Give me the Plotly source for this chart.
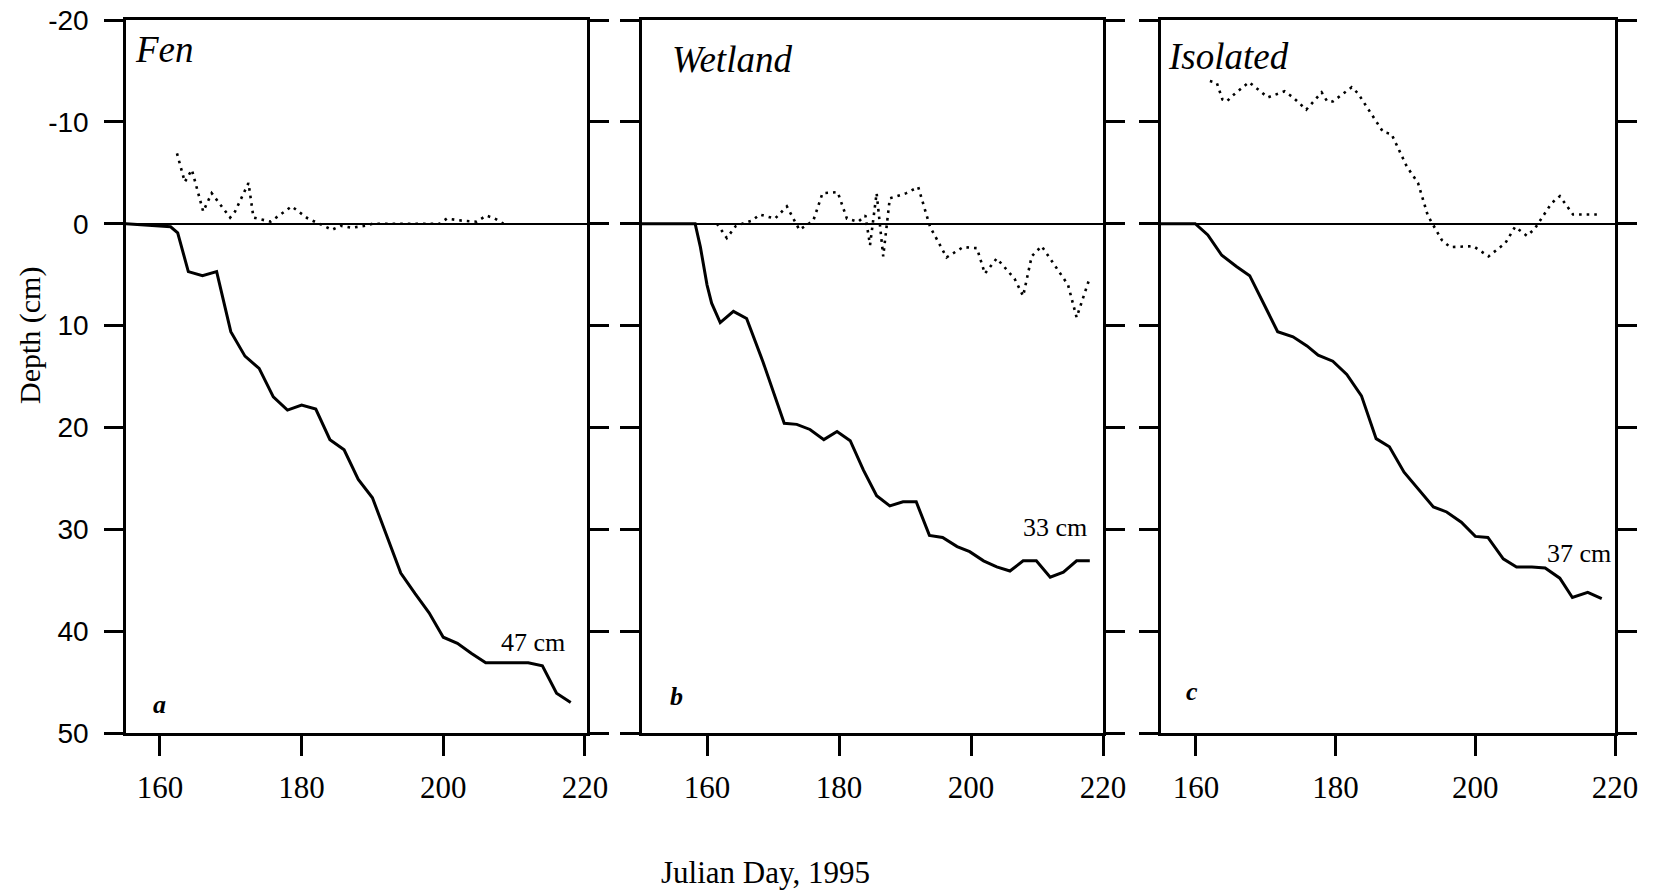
import plotly.graph_objects as go

W, H = 1654, 891

# ---------------- data ----------------
panel_names = ["Fen", "Wetland", "Isolated"]
panel_letters = ["a", "b", "c"]
final_depth_labels = ["47 cm", "33 cm", "37 cm"]

# frost/thaw depth (solid), cm below surface
fen_days = [155, 161.5, 162.5, 164, 166, 168, 170, 172, 174, 176, 178, 180, 182, 184, 186, 188,
            190, 192, 194, 196, 198, 200, 202, 204, 206, 208, 210, 212, 214, 216, 218]
fen_depth = [0, 0.3, 0.9, 4.7, 5.1, 4.7, 10.6, 13.0, 14.2, 17.0, 18.3, 17.8, 18.2, 21.2, 22.2, 25.1,
             26.9, 30.7, 34.3, 36.3, 38.2, 40.6, 41.2, 42.2, 43.1, 43.1, 43.1, 43.1, 43.4, 46.1, 47.0]

wet_days = [150, 158.2, 159, 160, 160.7, 162, 164, 166, 168.5, 170, 171.7, 173.6, 175.6, 177.7,
            179.7, 181.7, 183.7, 185.7, 187.7, 189.7, 191.7, 193.7, 195.7, 197.9, 199.8, 201.9,
            203.9, 205.9, 207.9, 209.9, 212, 214, 216, 218]
wet_depth = [0, 0, 2.3, 6.0, 7.8, 9.7, 8.6, 9.3, 13.6, 16.4, 19.6, 19.7, 20.2, 21.2,
             20.4, 21.3, 24.2, 26.7, 27.7, 27.3, 27.3, 30.6, 30.8, 31.7, 32.2, 33.1,
             33.7, 34.1, 33.1, 33.1, 34.7, 34.2, 33.1, 33.1]

iso_days = [155, 159.9, 161.7, 163.7, 165.8, 167.7, 170.1, 171.7, 173.9, 175.9, 177.5, 179.6,
            181.6, 183.7, 185.8, 187.7, 189.8, 191.8, 194, 195.9, 198, 200, 201.8, 204, 205.9,
            208.1, 210, 212.1, 213.9, 216.1, 218.1]
iso_depth = [0, 0, 1.1, 3.1, 4.2, 5.1, 8.4, 10.6, 11.1, 12.0, 12.9, 13.5,
             14.8, 16.9, 21.1, 21.9, 24.4, 26.0, 27.8, 28.3, 29.3, 30.7, 30.8, 32.9, 33.7,
             33.7, 33.8, 34.8, 36.7, 36.2, 36.8]

# water table (dotted), negative = above surface
fen_wt_days = [162.4, 163.5, 164.5, 166.1, 167.3, 168.2, 169.9, 170.6, 172.5, 173.2, 175.6, 178.6,
               180.9, 182.5, 184.3, 185.5, 187, 189, 190, 199.5, 200.5, 202.6, 204.7, 206.1,
               207.3, 208.5]
fen_wt = [-6.9, -4.1, -5.3, -1.2, -3.0, -2.2, -0.6, -1.2, -4.0, -0.6, -0.2, -1.7,
          -0.5, 0, 0.6, 0.2, 0.4, 0.2, 0, 0, -0.5, -0.3, -0.2, -0.8,
          -0.5, 0]

wet_wt_days = [161.5, 163, 164.4, 166.8, 168, 170.3, 172.1, 174, 176.1, 177.5, 179.8, 181.2,
               182.9, 184, 184.7, 185.7, 186.7, 187.7, 190.2, 192, 193.8, 196.3, 198.8, 200.9,
               202.1, 203.9, 206.6, 207.9, 209.2, 210.7, 214.7, 216, 218]
wet_wt = [0, 1.4, 0.2, -0.3, -0.9, -0.5, -1.7, 0.6, -0.3, -3.0, -3.1, -0.5,
          -0.2, -0.8, 2.1, -3.0, 3.2, -2.5, -3.0, -3.6, 0.3, 3.3, 2.3, 2.4,
          4.9, 3.4, 5.4, 7.1, 3.2, 2.2, 6.0, 9.2, 5.3]

iso_wt_days = [162, 163, 163.8, 164.4, 165.3, 167.6, 170.3, 172.7, 173.9, 175.8, 178, 178.8,
               179.6, 182.3, 183.2, 186.8, 188, 190.2, 191.8, 193.2, 195.2, 196.4, 199.7,
               201.9, 204.3, 205.7, 207.4, 208.5, 210.9, 212.1, 214, 217.4]
iso_wt = [-14.0, -13.8, -12.2, -12.0, -12.6, -13.9, -12.4, -13.0, -12.4, -11.2, -12.9, -12.0,
          -12.0, -13.4, -12.8, -9.0, -8.8, -5.6, -4.0, -0.8, 1.6, 2.3, 2.2,
          3.2, 1.9, 0.3, 1.2, 0.5, -2.0, -2.7, -0.9, -0.9]

x_ranges = [[155.2, 220.3], [150.15, 220.0], [155.0, 220.0]]
x_tickvals = [160, 180, 200, 220]
x_ticktext = ["160", "180", "200", "220"]
y_tickvals = [-20, -10, 0, 10, 20, 30, 40, 50]
y_ticktext = ["-20", "-10", "0", "10", "20", "30", "40", "50"]

# ---------------- layout geometry (pixels) ----------------
panel_px = [(126, 587), (642, 1103), (1161, 1615)]
y_top_px, y_bot_px = 20, 733

def px(x):
    return x / W

def py(y):
    return 1 - y / H

fig = go.Figure()

solid = [(fen_days, fen_depth), (wet_days, wet_depth), (iso_days, iso_depth)]
dotted = [(fen_wt_days, fen_wt), (wet_wt_days, wet_wt), (iso_wt_days, iso_wt)]

for i in range(3):
    sfx = "" if i == 0 else str(i + 1)
    fig.add_trace(go.Scatter(x=dotted[i][0], y=dotted[i][1], mode="lines",
                             line=dict(color="black", width=2.6, dash="2.6px,5px"),
                             xaxis="x" + sfx, yaxis="y" + sfx, hoverinfo="skip"))
    fig.add_trace(go.Scatter(x=solid[i][0], y=solid[i][1], mode="lines",
                             line=dict(color="black", width=3),
                             xaxis="x" + sfx, yaxis="y" + sfx, hoverinfo="skip"))

layout = dict(width=W, height=H, margin=dict(l=0, r=0, t=0, b=0, pad=0, autoexpand=False),
              paper_bgcolor="white", plot_bgcolor="white", showlegend=False)

for i in range(3):
    sfx = "" if i == 0 else str(i + 1)
    l, r = panel_px[i]
    layout["xaxis" + sfx] = dict(
        domain=[px(l), px(r)], range=x_ranges[i], anchor="y" + sfx, automargin=False,
        showgrid=False, zeroline=False, showline=True, linecolor="black", linewidth=2.5,
        mirror=True, ticks="outside", ticklen=20, tickwidth=2.5, tickcolor="black",
        tickvals=x_tickvals, ticktext=x_ticktext, ticklabelstandoff=5,
        tickfont=dict(family="Liberation Serif", size=31, color="black"))
    layout["yaxis" + sfx] = dict(
        domain=[py(y_bot_px), py(y_top_px)], range=[50, -20], anchor="x" + sfx, automargin=False,
        showgrid=False, zeroline=True, zerolinecolor="black", zerolinewidth=2,
        showline=True, linecolor="black", linewidth=2.5, mirror="ticks",
        ticks="outside", ticklen=19, tickwidth=2.5, tickcolor="black",
        tickvals=y_tickvals, ticktext=y_ticktext, showticklabels=(i == 0),
        ticklabelstandoff=10,
        tickfont=dict(family="Liberation Sans", size=28, color="black"))

fig.update_layout(**layout)

ann = []
title_pos = [(133, 50), (670, 59.5), (1166, 56)]
for i in range(3):
    ann.append(dict(text="<i>" + panel_names[i] + "</i>", x=px(title_pos[i][0]), y=py(title_pos[i][1]),
                    xref="paper", yref="paper", xanchor="left", yanchor="middle", showarrow=False,
                    font=dict(family="Liberation Serif", size=37, color="black")))
final_pos = [(567, 642.5), (1089, 527), (1613, 553)]
for i in range(3):
    ann.append(dict(text=final_depth_labels[i], x=px(final_pos[i][0]), y=py(final_pos[i][1]),
                    xref="paper", yref="paper", xanchor="right", yanchor="middle", showarrow=False,
                    font=dict(family="Liberation Serif", size=26, color="black")))
letter_pos = [(159, 704), (676, 696), (1192, 691)]
for i in range(3):
    ann.append(dict(text="<b><i>" + panel_letters[i] + "</i></b>", x=px(letter_pos[i][0]),
                    y=py(letter_pos[i][1]), xref="paper", yref="paper", xanchor="center",
                    yanchor="middle", showarrow=False,
                    font=dict(family="Liberation Serif", size=26, color="black")))
ann.append(dict(text="Depth (cm)", x=px(30), y=py(336), xref="paper", yref="paper",
                xanchor="center", yanchor="middle", textangle=-90, showarrow=False,
                font=dict(family="Liberation Serif", size=30, color="black")))
ann.append(dict(text="Julian Day, 1995", x=px(765), y=py(872), xref="paper", yref="paper",
                xanchor="center", yanchor="middle", showarrow=False,
                font=dict(family="Liberation Serif", size=31, color="black")))
fig.update_layout(annotations=ann)

fig.write_html("out.html")
